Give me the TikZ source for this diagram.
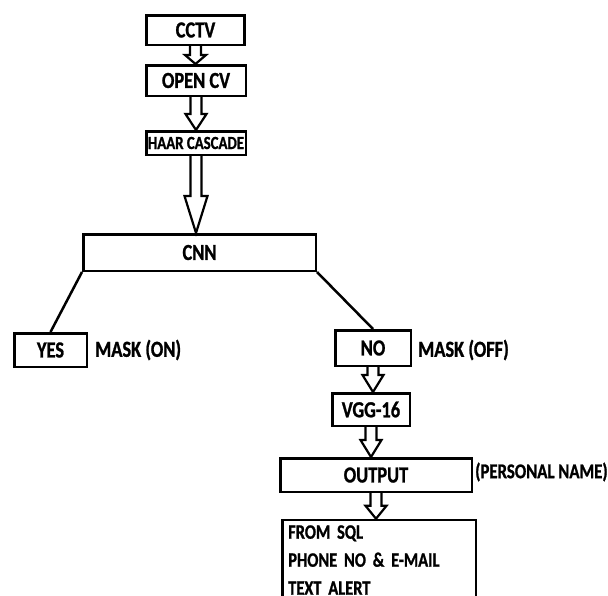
\documentclass[tikz,border=0pt]{standalone}
\usepackage{fontspec}
\setmainfont{Carlito}[FakeStretch=0.8, BoldFeatures={FakeBold=1}]
\usetikzlibrary{calc}
\tikzset{
  box/.style={rectangle, draw, line width=2.5pt, inner sep=0pt,
              font=\bfseries\fontsize{23}{25}\selectfont},
  tag/.style={anchor=west, inner sep=0pt,
              font=\bfseries\fontsize{23}{25}\selectfont},
  link/.style={line width=2.5pt},
  fat/.style={draw, line width=2.2pt, line join=miter, fill=white},
}
% hollow block arrow: [head half width]{from}{to}{head length}
\newcommand{\fatarrow}[4][10.5pt]{%
  \draw[fat] let \p1=(#2), \p2=(#3) in
    (\x1-5.5pt,\y1) -- (\x1-5.5pt,\y2+#4) -- (\x1-#1,\y2+#4) -- (\x1,\y2)
    -- (\x1+#1,\y2+#4) -- (\x1+5.5pt,\y2+#4) -- (\x1+5.5pt,\y1);}

\begin{document}
\begin{tikzpicture}[x=1pt, y=-1pt]
  \clip (0,0) rectangle (608,595);

  \node[box, minimum width=98pt, minimum height=29.5pt] (cctv) at (195.5,30) {CCTV};
  \node[box, minimum width=99.5pt, minimum height=30.5pt] (ocv) at (196,80.5) {OPEN CV};
  \node[box, minimum width=99.5pt, minimum height=23.5pt,
        font=\bfseries\fontsize{18.5}{21}\selectfont] (haar) at (196,143) {HAAR CASCADE};
  \node[box, minimum width=232.5pt, minimum height=36.5pt] (cnn) at (199.5,252.5) {CNN};

  \node[box, minimum width=72.5pt, minimum height=33.5pt] (yes) at (50.5,350) {YES};
  \node[tag] (mon) at (95,350) {MASK (ON)};
  \node[box, minimum width=75.5pt, minimum height=35.5pt] (no) at (373,348) {NO};
  \node[tag] (moff) at (418,350) {MASK (OFF)};

  \node[box, minimum width=77.5pt, minimum height=32.5pt] (vgg) at (371,409.5) {VGG-16};
  \node[box, minimum width=191.5pt, minimum height=33.5pt] (out) at (376,475) {OUTPUT};
  \node[tag, font=\bfseries\fontsize{21}{23}\selectfont] (pname) at (475,472) {(PERSONAL NAME)};

  \node[box, minimum width=193.5pt, minimum height=80pt, text width=181.5pt,
        align=left, font=\bfseries\fontsize{20.5}{28}\selectfont] (sql) at (379,560)
    {FROM SQL\\PHONE NO \& E-MAIL\\TEXT ALERT};

  \fatarrow{cctv.south}{ocv.north}{9pt}
  \fatarrow{ocv.south}{haar.north}{16pt}
  \fatarrow[11.5pt]{haar.south}{cnn.north}{37pt}
  \fatarrow{no.south}{vgg.north}{17pt}
  \fatarrow{vgg.south}{out.north}{17pt}
  \fatarrow{out.south}{sql.north}{13pt}

  \draw[link] (cnn.south west) -- (yes.north);
  \draw[link] (cnn.south east) -- (no.north);
\end{tikzpicture}
\end{document}
